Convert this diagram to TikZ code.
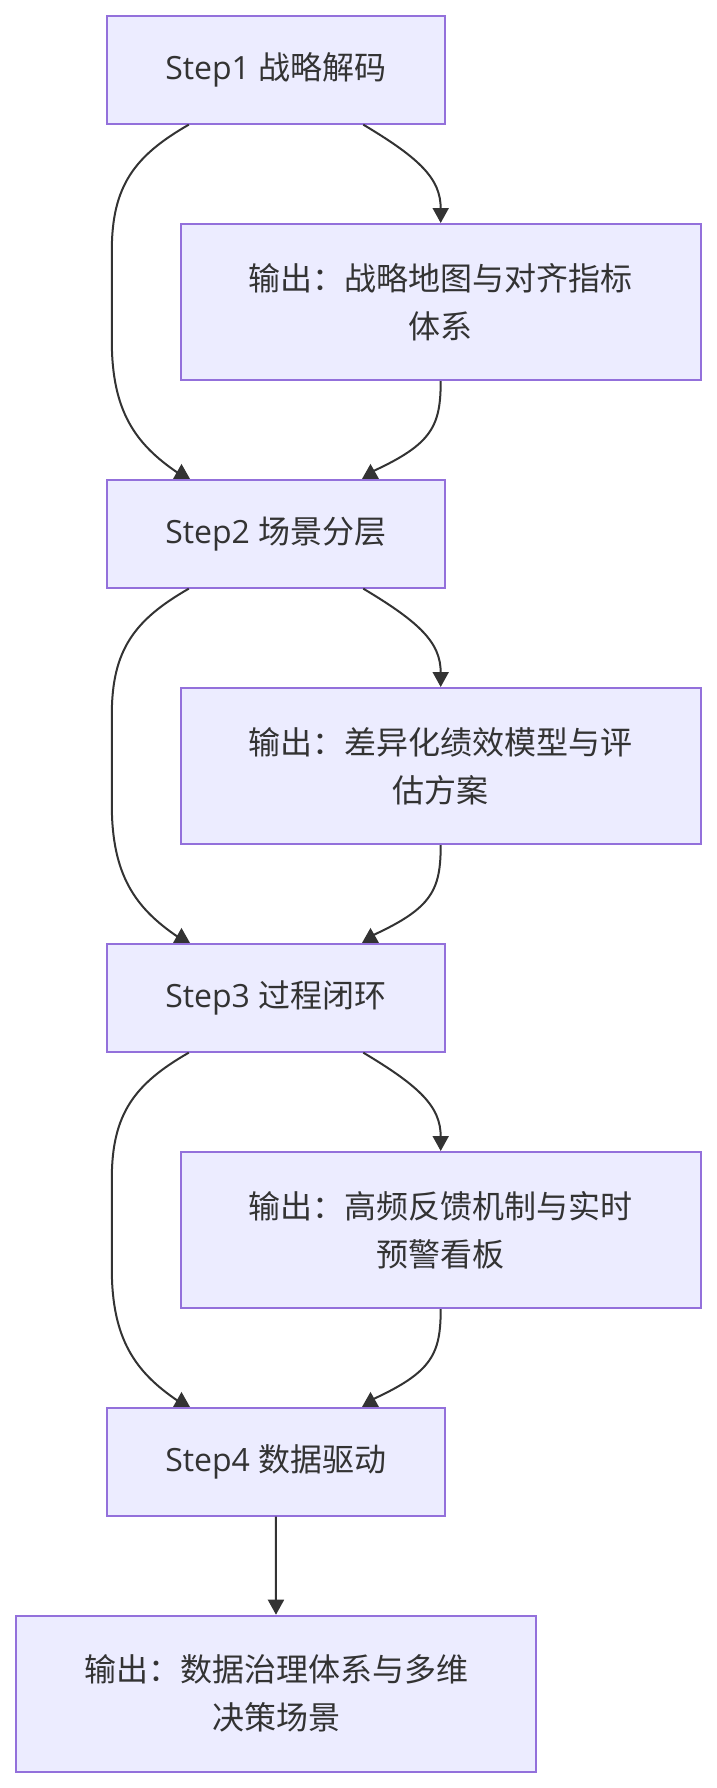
\documentclass[tikz,border=0pt]{standalone}
\usepackage{fontspec}
\setmainfont{Open Sans}
\newfontfamily\cjk{Noto Sans CJK SC}
\usetikzlibrary{arrows.meta,calc}
\definecolor{boxfill}{HTML}{ECECFF}
\definecolor{boxline}{HTML}{9370DB}
\definecolor{ink}{HTML}{333333}
\begin{document}
\begin{tikzpicture}[x=1pt,y=-1pt,
  stepbox/.style={draw=boxline,fill=boxfill,line width=2pt,minimum width=338.3pt,minimum height=107.7pt,inner sep=0pt,text=ink,font=\fontsize{32}{48}\selectfont},
  outbox/.style={draw=boxline,fill=boxfill,line width=2pt,minimum width=520pt,minimum height=156pt,inner sep=0pt,text=ink,align=center,font=\cjk\fontsize{32}{48}\selectfont},
  conn/.style={draw=ink,line width=2pt},
  tipped/.style={conn,-{Triangle[length=15pt,width=16pt]}},
  headfill/.style={fill=ink}]
\useasboundingbox (0,0) rectangle (717,1788);
\node[stepbox] (s1) at (275.8,69.8) {Step1 {\cjk 战略解码}};
\node[outbox] (o1) at (440.7,302) {输出：战略地图与对齐指标\\体系};
\node[stepbox] (s2) at (275.8,533.8) {Step2 {\cjk 场景分层}};
\node[outbox] (o2) at (440.7,766) {输出：差异化绩效模型与评\\估方案};
\node[stepbox] (s3) at (275.8,997.8) {Step3 {\cjk 过程闭环}};
\node[outbox] (o3) at (440.7,1230) {输出：高频反馈机制与实时\\预警看板};
\node[stepbox] (s4) at (275.8,1461.8) {Step4 {\cjk 数据驱动}};
\node[outbox] (o4) at (276,1693.7) {输出：数据治理体系与多维\\决策场景};
\foreach \a/\o/\b in {s1/o1/s2,s2/o2/s3,s3/o3/s4} {
  \coordinate (A) at ($(\a.south)+(-87,0)$);
  \coordinate (B) at ($(\a.south)+(87.5,0)$);
  \draw[conn] (A) .. controls ($(A)+(-54,31)$) and ($(A)+(-77,61)$) .. ($(A)+(-77,126)$)
    -- ($(A)+(-77,216)$) .. controls ($(A)+(-77,286)$) and ($(\b.north)+(-140.8,-35)$) .. ($(\b.north)+(-97.8,-6)$);
  \draw[tipped] (B) .. controls ($(B)+(57,34)$) and ($(\o.north)+(0,-44)$) .. (\o.north);
  \draw[conn] (\o.south) .. controls ($(\o.south)+(0,45)$) and ($(\b.north)+(156.2,-35)$) .. ($(\b.north)+(97.7,-8)$);
  \fill[headfill] ($(\b.north)+(-94.3,-15)$) -- ($(\b.north)+(-102.8,0)$) -- ($(\b.north)+(-85.8,0)$) -- cycle;
  \fill[headfill] ($(\b.north)+(94.7,-15)$) -- ($(\b.north)+(86.2,0)$) -- ($(\b.north)+(103.2,0)$) -- cycle;
}
\draw[tipped] (s4.south) -- (o4.north);
\end{tikzpicture}
\end{document}
